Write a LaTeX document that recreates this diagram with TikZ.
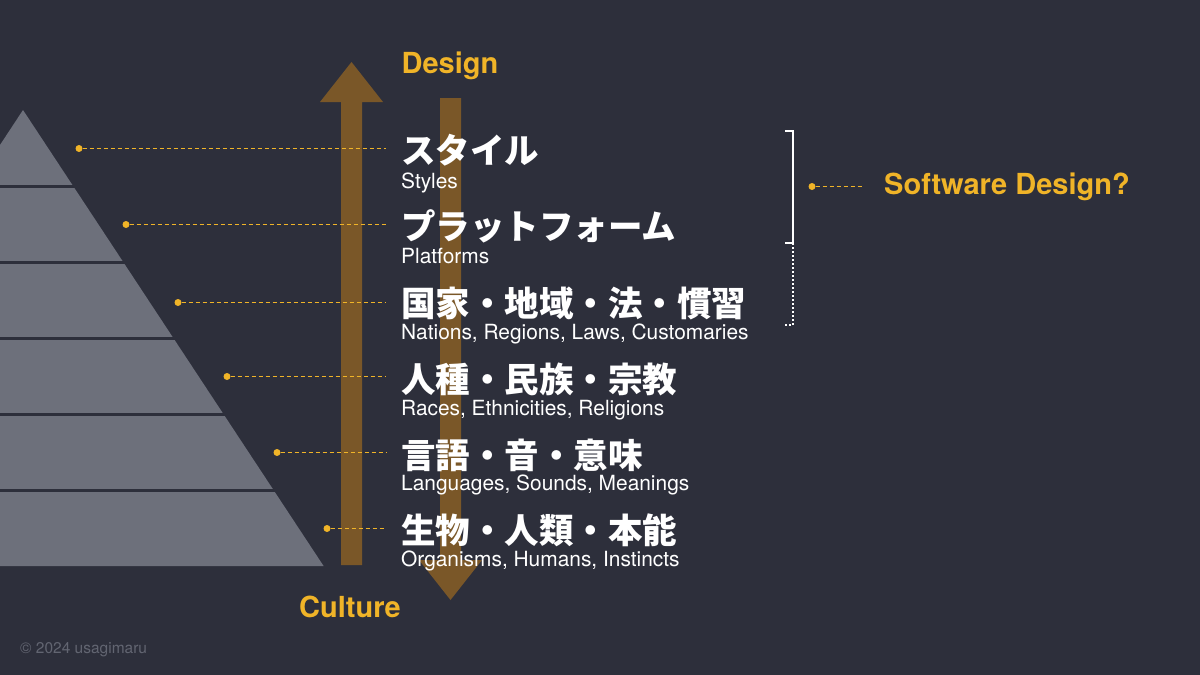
\documentclass[tikz,border=0pt]{standalone}
\usepackage{fontspec}
\setmainfont{TeX Gyre Heros}
\newfontfamily\jpfont{Noto Sans CJK JP}
\usepackage{tikz}
\definecolor{mybg}{RGB}{45,47,59}
\definecolor{myyellow}{RGB}{240,180,40}
\definecolor{mybrown}{RGB}{122,87,40}
\definecolor{mygray}{RGB}{109,112,123}
\definecolor{myfaint}{RGB}{98,101,113}

\begin{document}
\begin{tikzpicture}[x=1pt,y=-1pt]
                \tikzstyle{jp}=[anchor=base west, inner sep=0pt, text=white, font=\jpfont\bfseries\fontsize{34.5}{40}\selectfont]
                \tikzstyle{en}=[anchor=base west, inner sep=0pt, text=white, font=\fontsize{20.9}{24}\selectfont]
                \tikzstyle{title}=[inner sep=0pt, text=myyellow, font=\bfseries\fontsize{29}{34}\selectfont]
                \tikzstyle{dot}=[circle, fill=myyellow, inner sep=0pt, minimum size=7pt]
                \tikzstyle{bind}=[myyellow, line width=1.7pt, dash pattern=on 4pt off 3pt]

                \fill[mybg] (0,0) rectangle (1200,675);
                \useasboundingbox (0,0) rectangle (1200,675);

                % pyramid
                \fill[mygray] (0,145) -- (23,110) -- (323.6,566) -- (0,566) -- cycle;
                \foreach \y in {186,262,338,414,490}
                    \draw[mybg, line width=3pt] (0,\y) -- (330,\y);

                % arrows
                \fill[mybrown] (341,565) -- (341,102) -- (320,102) -- (351.5,62) -- (383,102) -- (362,102) -- (362,565) -- cycle;
                \fill[mybrown] (440,98) -- (440,560) -- (419,560) -- (450.5,600) -- (482,560) -- (461,560) -- (461,98) -- cycle;

                \node[title, anchor=base] (design) at (450,73) {Design};
                \node[title, anchor=base] (culture) at (350,617) {Culture};

                \node[dot] (D1) at (79,148.5) {};
                \node[dot] (D2) at (126,224.5) {};
                \node[dot] (D3) at (178,302.5) {};
                \node[dot] (D4) at (227,376.5) {};
                \node[dot] (D5) at (277,452.5) {};
                \node[dot] (D6) at (327,528.5) {};
                \coordinate (E1) at (386,148.5);
                \coordinate (E2) at (386,224.5);
                \coordinate (E3) at (386,302.5);
                \coordinate (E4) at (386,376.5);
                \coordinate (E5) at (386,452.5);
                \coordinate (E6) at (386,528.5);
                \draw[bind] (D1) -- (E1);
                \draw[bind] (D2) -- (E2);
                \draw[bind] (D3) -- (E3);
                \draw[bind] (D4) -- (E4);
                \draw[bind] (D5) -- (E5);
                \draw[bind] (D6) -- (E6);

                \node[jp] (J1) at (401,163) {スタイル};
                \node[en] (L1) at (401,188) {Styles};
                \node[jp] (J2) at (401,239) {プラットフォーム};
                \node[en] (L2) at (401,263) {Platforms};
                \node[jp] (J3) at (401,316) {国家・地域・法・慣習};
                \node[en] (L3) at (401,339) {Nations, Regions, Laws, Customaries};
                \node[jp] (J4) at (401,392) {人種・民族・宗教};
                \node[en] (L4) at (401,415) {Races, Ethnicities, Religions};
                \node[jp] (J5) at (401,468) {言語・音・意味};
                \node[en] (L5) at (401,490) {Languages, Sounds, Meanings};
                \node[jp] (J6) at (401,543) {生物・人類・本能};
                \node[en] (L6) at (401,566) {Organisms, Humans, Instincts};

                % bracket
                \coordinate (B1) at (785,131);
                \coordinate (B2) at (793,131);
                \coordinate (B3) at (793,243);
                \coordinate (B4) at (785,243);
                \coordinate (B5) at (793,325);
                \coordinate (B6) at (785,325);
                \draw[white, line width=1.5pt] (B1) -- (B2) -- (B3) -- (B4);
                \draw[white, line width=1.5pt, dash pattern=on 2pt off 2pt] (B3) -- (B5) -- (B6);

                \node[dot] (S) at (812,186.5) {};
                \coordinate (SE) at (864,186.5);
                \draw[bind] (S) -- (SE);
                \node[title, anchor=base west] (soft) at (884,194) {Software Design?};

                \node[anchor=base west, inner sep=0pt, text=myfaint, font=\fontsize{15.5}{18}\selectfont] (copy) at (20,653) {© 2024 usagimaru};
            \end{tikzpicture}
\end{document}
